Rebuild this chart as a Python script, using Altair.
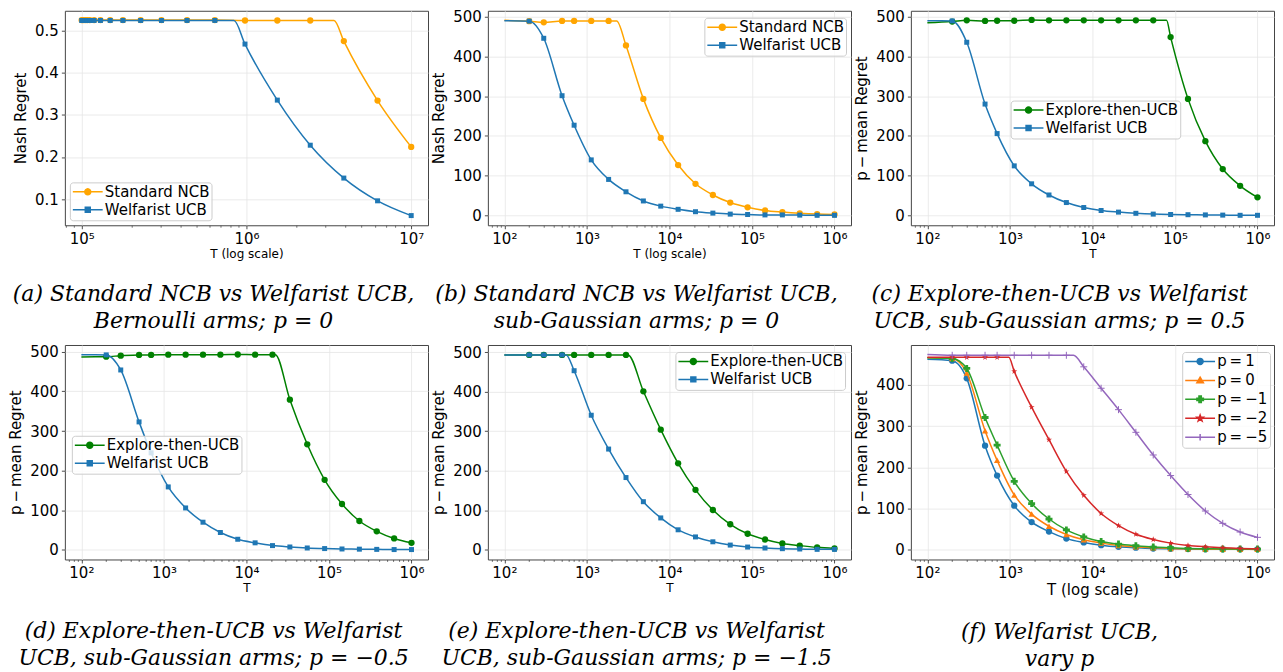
import math
import altair as alt
import pandas as pd

# ---------------- values ----------------
# (a) Bernoulli arms, p = 0
T_A = [1.00e5, 1.02e5, 1.05e5, 1.08e5, 1.12e5, 1.19e5, 1.30e5, 1.49e5, 1.78e5,
       2.28e5, 3.05e5, 4.36e5, 6.43e5, 9.80e5, 1.54e6, 2.44e6, 3.90e6, 6.25e6, 1.00e7]
A_NCB = [0.525, 0.525, 0.525, 0.525, 0.525, 0.525, 0.525, 0.525, 0.525, 0.525,
         0.525, 0.525, 0.525, 0.524, 0.524, 0.524, 0.475, 0.334, 0.224]
A_WUCB = [0.524, 0.524, 0.524, 0.524, 0.524, 0.524, 0.524, 0.524, 0.524, 0.524,
          0.524, 0.524, 0.524, 0.468, 0.335, 0.228, 0.150, 0.096, 0.061]
A_NCB_KNEE = (3.4e6, 0.524)
A_WUCB_KNEE = (8.4e5, 0.524)

# horizon grid shared by panels (b)-(f)
T = [100, 200, 300, 500, 700, 1129, 1833, 2976, 4833, 7848, 12743, 20691,
     33598, 54556, 88587, 143845, 233572, 379269, 615848, 1000000]

# (b) sub-Gaussian, p = 0
B_NCB = [490, 488, 485, 488.5, 488.5, 488.5, 488.5, 427, 293, 195, 127, 80, 52, 33,
         21, 13, 9, 6, 4, 3]
B_WUCB = [489, 488, 445, 301, 227, 140, 91, 60, 37, 24, 16, 10, 6.5, 4, 3, 2, 2,
          1.5, 1, 1]
B_NCB_KNEE = (2300, 488.5)

# (c) p = 0.5
C_ETC = [484, 487, 490, 488.5, 489, 489, 491, 490, 490, 490, 490, 490, 490, 490,
         448, 293, 187, 117, 75, 46]
C_WUCB = [489, 488.5, 435, 280, 206, 125, 80, 52, 33, 20.5, 13, 9, 6, 4, 3, 2.5,
          2, 1.5, 1, 1]
C_ETC_KNEE = (79000, 490)

# (d) p = -0.5
D_ETC = [487, 487.5, 490, 492, 492, 492.5, 492.5, 492.5, 492.5, 493, 492.5, 492.5,
         379, 266.5, 177, 116, 73, 47, 29, 18]
D_WUCB = [492.5, 492, 454, 323, 245, 159, 106, 70, 44, 27, 18, 11, 7.5, 5, 3.5,
          2.5, 2, 1.5, 1, 1]
D_ETC_KNEE = (22400, 492.5)

# (e) p = -1.5
E_ETC = [493, 493, 493, 493, 493, 493, 493, 493, 401, 304, 219, 152, 101, 65, 41,
         26.5, 16.5, 11, 6.6, 4]
E_WUCB = [493, 493, 493, 493, 453, 340.5, 255, 183, 122, 81, 51, 33, 20.7, 12.4,
          7.4, 5, 3.3, 2.5, 1.6, 1.6]
E_ETC_KNEE = (3150, 493)
E_WUCB_KNEE = (560, 493)

# (f) Welfarist UCB, varying p
F_P1 = [462.5, 459, 416, 252.5, 180, 107, 67, 44, 27, 17.6, 11, 7, 5, 3, 2.4, 1.6,
        1.2, 1, 1, 1]
F_P0 = [466, 464, 429, 289, 217, 133, 86.5, 57, 37, 24, 16, 10.4, 7, 5, 3.2, 2.4,
        1.6, 1.2, 1, 0.8]
F_PM1 = [466, 464, 440, 321, 254, 166, 112, 74.5, 48, 31, 20, 13.6, 9.6, 6.4, 4.8,
         3.2, 2.4, 2, 1.6, 1.6]
F_PM2 = [467, 467, 467, 467, 467, 433, 346, 267, 190, 132, 88, 58.5, 37.7, 25, 16,
         10.4, 7.2, 4.8, 3.2, 2.4]
F_PM5 = [474, 472, 472, 472, 472, 472, 472, 472, 472, 444, 392, 340, 285, 230, 180,
         134, 94, 64, 43, 30]
F_PM2_KNEE = (970, 467)
F_PM5_KNEE = (5900, 472)

# ---------------- styling ----------------
ORANGE, BLUE, GREEN = "#FFA500", "#1f77b4", "#008000"
TAB = ["#1f77b4", "#ff7f0e", "#2ca02c", "#d62728", "#9467bd"]
FONT = "DejaVu Sans"
SUP_EXPR = ("'10' + ['\u2070','\u00b9','\u00b2','\u00b3','\u2074','\u2075','\u2076',"
            "'\u2077','\u2078'][round(log(datum.value)/LN10)]")


def poly(cx, cy, r, n=16, start=0.0):
    pts = []
    for i in range(n):
        a = start + 2 * math.pi * i / n
        pts.append(f"{cx + r * math.cos(a):.3f},{cy + r * math.sin(a):.3f}")
    return "M" + "L".join(pts) + "Z"


def star(cx, cy, r):
    pts = []
    for i in range(10):
        rr = r if i % 2 == 0 else r * 0.4
        a = -math.pi / 2 + i * math.pi / 5
        pts.append(f"{cx + rr * math.cos(a):.3f},{cy + rr * math.sin(a):.3f}")
    return "M" + "L".join(pts) + "Z"


def cross(cx, cy, L, w):
    p = [(-w, -L), (w, -L), (w, -w), (L, -w), (L, w), (w, w), (w, L), (-w, L),
         (-w, w), (-L, w), (-L, -w), (-w, -w)]
    return "M" + "L".join(f"{cx + x:.3f},{cy + y:.3f}" for x, y in p) + "Z"


MC = 1.3  # marker centre inside the legend handle (unit coords)
LINE = "M-1,0L3.6,0"
MK = {
    "circle": ("circle", 40, True, LINE + poly(MC, 0, 0.46)),
    "square": ("square", 25, True, LINE + f"M{MC-0.38:.2f},-0.38L{MC+0.38:.2f},-0.38L{MC+0.38:.2f},0.38L{MC-0.38:.2f},0.38Z"),
    "tri": ("triangle-up", 40, True, LINE + f"M{MC},-0.5L{MC+0.5},0.36L{MC-0.5},0.36Z"),
    "plusf": ("cross", 49, True, LINE + cross(MC, 0, 0.5, 0.18)),
    "star": (star(0, 0, 1), 40, True, LINE + star(MC, 0, 0.5)),
    "plus": ("M-1,0L1,0M0,-1L0,1", 49, False, LINE + f"M{MC},-0.5L{MC},0.5"),
}


def minor_ticks(lo, hi):
    out = []
    for d in range(0, 9):
        for k in range(2, 10):
            v = k * 10 ** d
            if lo <= v <= hi:
                out.append(v)
    return out


def panel(series, xdom, xvals, ydom, yvals, yfmt, ytitle, ytsize, xtitle, xtsize,
          caption, cap_offset, lx, ly, rowpad, width, height, ytpad):
    xs = alt.Scale(type="log", domain=list(xdom), nice=False)
    ys = alt.Scale(domain=list(ydom), nice=False, zero=False)
    xaxis = alt.Axis(values=xvals, labelExpr=SUP_EXPR, title=xtitle, titleFontSize=xtsize,
                     orient="bottom", labelFlush=False, labelOverlap=False,
                     titlePadding=2)
    yaxis = alt.Axis(values=yvals, format=yfmt, title=ytitle, titleFontSize=ytsize,
                     labelFlush=False, labelOverlap=False, titlePadding=ytpad)
    layers = []
    for s in series:
        lt = list(s["t"])
        lv = list(s["v"])
        if s.get("knee"):
            lt.append(s["knee"][0])
            lv.append(s["knee"][1])
        ldf = pd.DataFrame({"T": lt, "v": lv}).sort_values("T")
        first = s.get("first", 1)
        pdf = pd.DataFrame({"T": s["t"][first:], "v": s["v"][first:]})
        shape, size, filled, _ = MK[s["mk"]]
        layers.append(
            alt.Chart(ldf).mark_line(color=s["color"], strokeWidth=1.5,
                                     interpolate="monotone")
            .encode(x=alt.X("T:Q", scale=xs, axis=xaxis),
                    y=alt.Y("v:Q", scale=ys, axis=yaxis))
        )
        pm = dict(shape=shape, size=size, filled=filled, color=s["color"], opacity=1)
        if not filled:
            pm["strokeWidth"] = 1
        layers.append(
            alt.Chart(pdf).mark_point(**pm)
            .encode(x=alt.X("T:Q", scale=xs, axis=xaxis),
                    y=alt.Y("v:Q", scale=ys, axis=yaxis))
        )
    main = alt.layer(*layers)

    mv = minor_ticks(xdom[0], xdom[1])
    minor = alt.Chart(pd.DataFrame({"T": mv})).mark_point(opacity=0).encode(
        x=alt.X("T:Q", scale=xs,
                axis=alt.Axis(values=mv, labels=False, title=None, grid=False,
                              domain=False, tickSize=2, tickWidth=0.6, orient="bottom"))
    )

    names = [s["name"] for s in series]
    colors = [s["color"] for s in series]
    lpaths = [MK[s["mk"]][3] for s in series]
    leg = alt.Legend(title=None, orient="none", legendX=lx, legendY=ly,
                     direction="vertical", labelFont=FONT, labelFontSize=15,
                     labelColor="black", symbolSize=169, symbolStrokeWidth=1.5,
                     labelOffset=18, padding=2, rowPadding=rowpad,
                     fillColor="rgba(255,255,255,0.8)", strokeColor="#cccccc",
                     cornerRadius=3, symbolOpacity=1)
    legend_layer = (
        alt.Chart(pd.DataFrame({"s": names}))
        .transform_filter("false")
        .mark_point(filled=True, size=169, opacity=1)
        .encode(
            fill=alt.Fill("s:N", scale=alt.Scale(domain=names, range=colors), legend=leg),
            stroke=alt.Stroke("s:N", scale=alt.Scale(domain=names, range=colors), legend=leg),
            shape=alt.Shape("s:N", scale=alt.Scale(domain=names, range=lpaths), legend=leg),
        )
    )
    return (
        alt.layer(main, minor, legend_layer)
        .resolve_axis(x="independent")
        .properties(
            width=width, height=height,
            title=alt.TitleParams(text=caption, orient="bottom", anchor="middle",
                                  font="DejaVu Serif", fontStyle="italic",
                                  fontWeight="normal", fontSize=22, lineHeight=27,
                                  offset=cap_offset, dx=-33, color="black"),
        )
    )


XD_A = (10 ** 4.898, 10 ** 7.102)
XD = (10 ** 1.8, 10 ** 6.2)
XV_A = [1e5, 1e6, 1e7]
XV = [1e2, 1e3, 1e4, 1e5, 1e6]
Y500 = [0, 100, 200, 300, 400, 500]
PM = "p\u2009\u2212\u2009mean Regret"
W, H = 364, 215

pa = panel(
    [dict(name="Standard NCB", t=T_A, v=A_NCB, knee=A_NCB_KNEE, color=ORANGE, mk="circle", first=0),
     dict(name="Welfarist UCB", t=T_A, v=A_WUCB, knee=A_WUCB_KNEE, color=BLUE, mk="square", first=0)],
    XD_A, XV_A, (0.038, 0.547), [0.1, 0.2, 0.3, 0.4, 0.5], ".1f", "Nash Regret", 15,
    "T (log scale)", 12, ["(a) Standard NCB vs Welfarist UCB,", "Bernoulli arms; p = 0"],
    24, 5, 172, 2, W, H, 6)

pb = panel(
    [dict(name="Standard NCB", t=T, v=B_NCB, knee=B_NCB_KNEE, color=ORANGE, mk="circle"),
     dict(name="Welfarist UCB", t=T, v=B_WUCB, color=BLUE, mk="square")],
    XD, XV, (-24, 514), Y500, "d", "Nash Regret", 15,
    "T (log scale)", 12, ["(b) Standard NCB vs Welfarist UCB,", "sub-Gaussian arms; p = 0"],
    24, 217, 7, 2, W, H, 6)

pc = panel(
    [dict(name="Explore-then-UCB", t=T, v=C_ETC, knee=C_ETC_KNEE, color=GREEN, mk="circle"),
     dict(name="Welfarist UCB", t=T, v=C_WUCB, color=BLUE, mk="square")],
    XD, XV, (-24, 514), Y500, "d", PM, 15,
    "T", 12, ["(c) Explore-then-UCB vs Welfarist", "UCB, sub-Gaussian arms; p = 0.5"],
    24, 100, 90, 2, W, H, 6)

pdd = panel(
    [dict(name="Explore-then-UCB", t=T, v=D_ETC, knee=D_ETC_KNEE, color=GREEN, mk="circle"),
     dict(name="Welfarist UCB", t=T, v=D_WUCB, color=BLUE, mk="square")],
    XD, XV, (-24, 517), Y500, "d", PM, 15,
    "T", 12, ["(d) Explore-then-UCB vs Welfarist", "UCB, sub-Gaussian arms; p = \u22120.5"],
    27, 7, 91, 2, W, H, 6)

pe = panel(
    [dict(name="Explore-then-UCB", t=T, v=E_ETC, knee=E_ETC_KNEE, color=GREEN, mk="circle"),
     dict(name="Welfarist UCB", t=T, v=E_WUCB, knee=E_WUCB_KNEE, color=BLUE, mk="square")],
    XD, XV, (-24, 518), Y500, "d", PM, 15,
    "T", 12, ["(e) Explore-then-UCB vs Welfarist", "UCB, sub-Gaussian arms; p = \u22121.5"],
    27, 188, 7, 2, W, H, 6)

TS = "\u2009"
pf = panel(
    [dict(name=f"p{TS}={TS}1", t=T, v=F_P1, color=TAB[0], mk="circle"),
     dict(name=f"p{TS}={TS}0", t=T, v=F_P0, color=TAB[1], mk="tri"),
     dict(name=f"p{TS}={TS}\u22121", t=T, v=F_PM1, color=TAB[2], mk="plusf"),
     dict(name=f"p{TS}={TS}\u22122", t=T, v=F_PM2, knee=F_PM2_KNEE, color=TAB[3], mk="star"),
     dict(name=f"p{TS}={TS}\u22125", t=T, v=F_PM5, knee=F_PM5_KNEE, color=TAB[4], mk="plus")],
    XD, XV, (-23.7, 497), [0, 100, 200, 300, 400], "d", PM, 15,
    "T (log scale)", 15, ["(f) Welfarist UCB,", "vary p"],
    24, 272, 7, 3, W, H, 6)

IND = dict(fill="independent", stroke="independent", shape="independent")

chart = (
    alt.concat(pa, pb, pc, pdd, pe, pf, columns=3,
               spacing={"row": 120, "column": 60}, bounds="flush", padding=0)
    .resolve_scale(**IND)
    .configure_view(stroke="#444444", strokeWidth=1)
    .configure_axis(labelFont=FONT, labelFontSize=15, labelColor="black",
                    titleFont=FONT, titleFontWeight="normal", titleColor="black",
                    tickSize=3.5, tickWidth=0.8, tickColor="#222222", labelPadding=3,
                    grid=True, gridColor="#e6e6e6", gridWidth=0.8, domain=False)
)

chart.save("out.html", embed_options={"renderer": "svg", "actions": False})
